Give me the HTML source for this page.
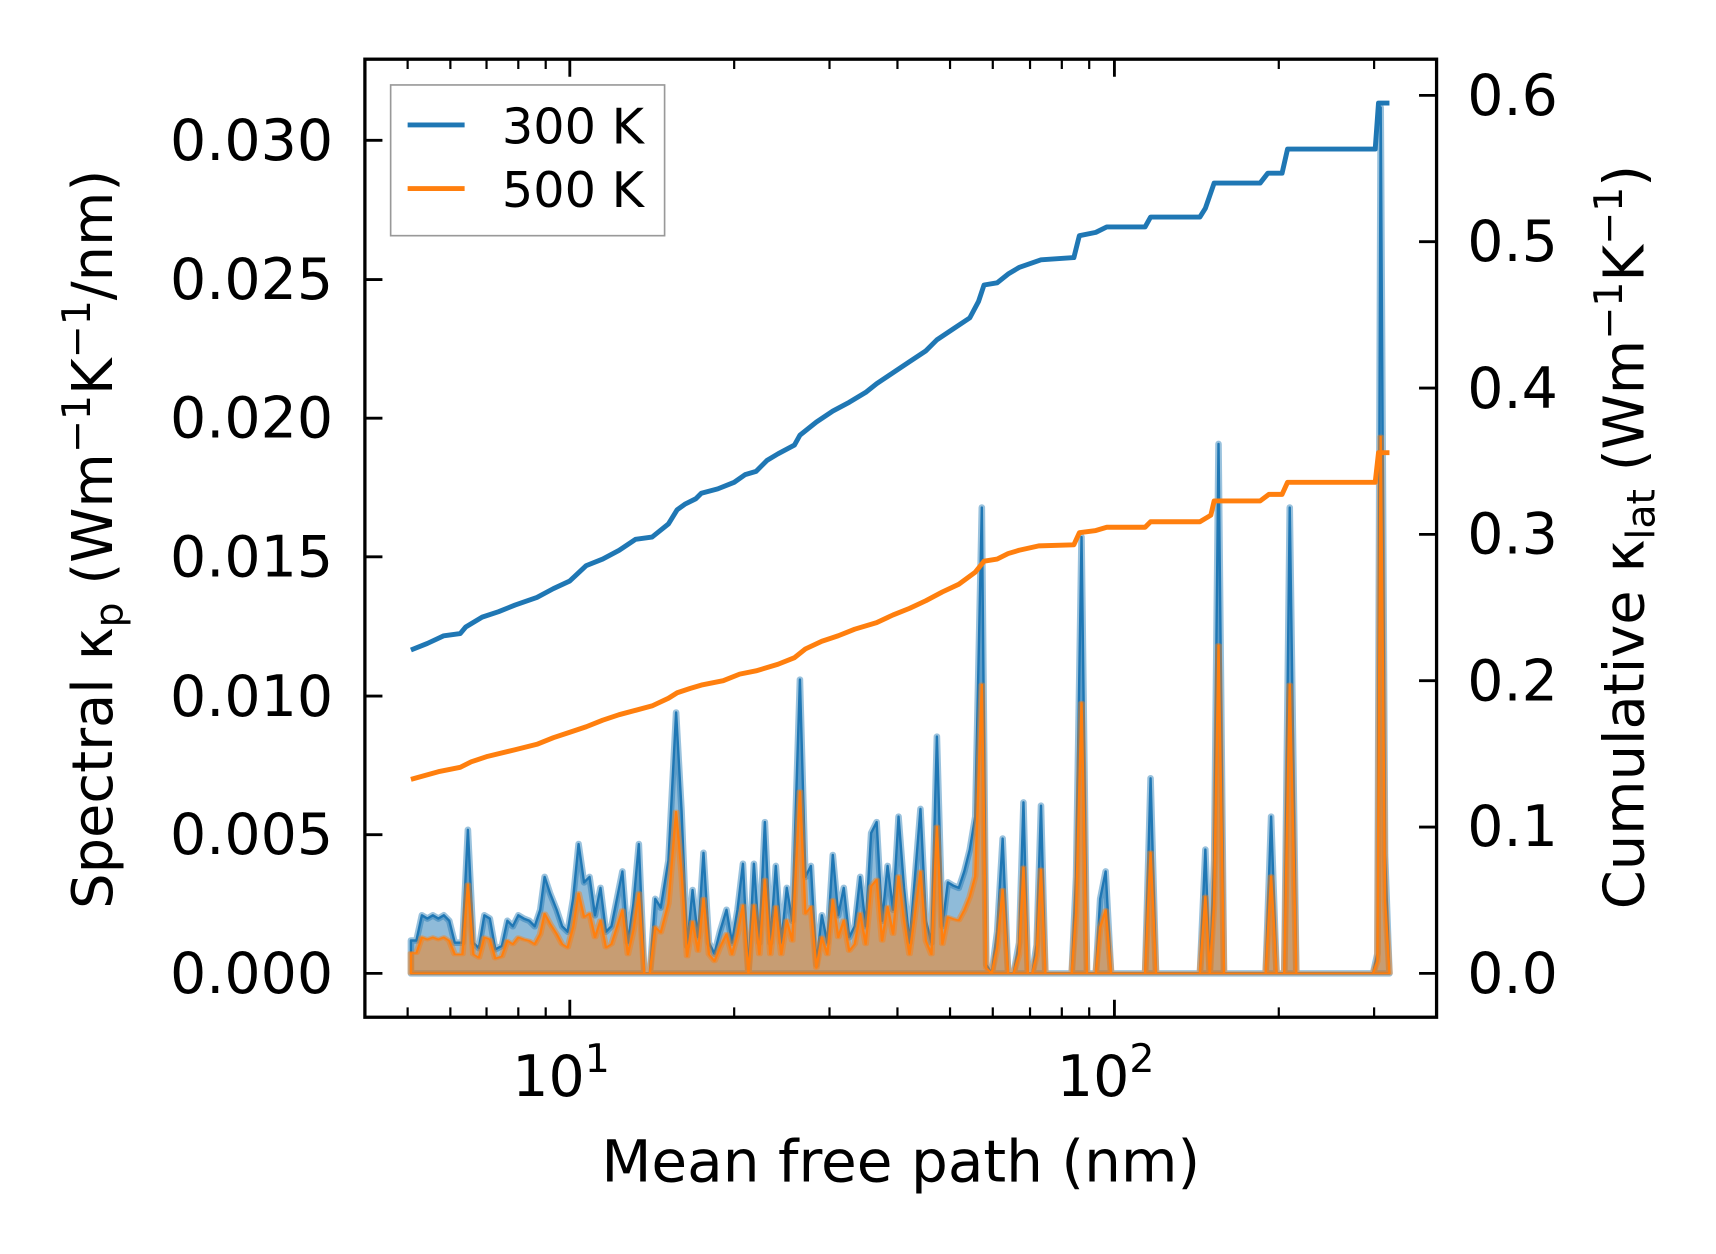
<!DOCTYPE html>
<html><head><meta charset="utf-8"><style>
html,body{margin:0;padding:0;background:#fff;}
svg{display:block;}
text{font-family:"DejaVu Sans","Liberation Sans",sans-serif;fill:#000;}
</style></head><body>
<svg width="1716" height="1254" viewBox="0 0 1566 1144" preserveAspectRatio="none" xmlns="http://www.w3.org/2000/svg">
<defs>
<clipPath id="c"><rect x="333" y="54" width="978" height="874"/></clipPath>
<polygon id="bp" points="375,888 375,858 380,858 385,835 390,838 395,835 400,838 405,835 410,840 415,860 422,860 427,757 432,860 437,865 442,835 447,838 452,866 458,863 463,840 468,845 473,835 478,838 483,840 488,845 493,830 497,800 502,815 508,830 513,845 518,850 523,820 528,770 533,805 538,800 543,835 548,810 553,850 558,845 563,820 568,795 573,860 578,825 583,770 588,888 593,888 598,820 603,828 610,785 617,650 622,740 627,863 632,812 637,855 642,778 647,860 652,870 657,850 663,830 668,860 673,830 678,788 683,888 688,788 693,860 698,750 703,860 708,790 713,860 718,810 723,840 730,620 735,800 740,790 745,880 750,835 755,860 760,780 765,835 770,810 775,855 780,845 785,800 790,845 795,760 800,750 805,840 810,790 815,830 820,745 825,810 830,860 835,800 840,738 845,840 850,860 855,672 860,845 865,805 870,808 875,810 880,795 885,775 890,745 896,463 900,880 905,888 910,850 915,765 920,888 925,888 930,860 934,732 938,888 942,888 946,862 950,735 954,888 960,888 978,888 982,800 987,490 992,888 1000,888 1004,820 1009,795 1014,888 1045,888 1050,710 1055,888 1095,888 1100,775 1104,888 1108,785 1112,405 1117,888 1155,888 1160,745 1165,888 1172,888 1177,463 1183,888 1253,888 1257,870 1260,98 1264,780 1268,888"/>
</defs>
<g clip-path="url(#c)">
<use href="#bp" fill="#1f77b4" fill-opacity="0.5" stroke="#1f77b4" stroke-opacity="0.45" stroke-width="6" stroke-linejoin="round"/>
<use href="#bp" fill="none" stroke="#1f77b4" stroke-width="2.2" stroke-linejoin="round"/>
<g transform="translate(0,888) scale(1,0.62) translate(0,-888)">
<use href="#bp" fill="#ff7f0e" fill-opacity="0.5" stroke="#ff7f0e" stroke-opacity="0.45" stroke-width="6" stroke-linejoin="round"/>
<use href="#bp" fill="none" stroke="#ff7f0e" stroke-width="2.2" stroke-linejoin="round"/>
</g>
<polyline fill="none" stroke="#1f77b4" stroke-width="4.5" stroke-linejoin="round" points="375,593 390,587 405,580 420,578 425,572 440,563 455,558 470,552 490,545 505,537 520,530 535,516 550,510 565,502 580,492 595,490 610,478 618,465 625,460 635,455 640,450 655,446 670,440 680,433 690,430 700,420 710,414 725,406 730,397 745,385 760,375 775,367 790,358 800,350 815,340 830,330 845,320 855,310 870,300 885,290 893,275 898,260 910,258 920,250 930,244 950,237 980,235 985,215 1000,212 1010,207 1045,207 1050,198 1095,198 1100,190 1108,167 1150,167 1157,158 1170,158 1175,136 1255,136 1258,94 1268,94"/>
<polyline fill="none" stroke="#ff7f0e" stroke-width="4.5" stroke-linejoin="round" points="375,711 400,704 420,700 430,695 445,690 470,684 490,679 505,673 520,668 535,663 550,657 565,652 580,648 595,644 610,637 618,632 630,628 640,625 660,621 675,615 690,612 710,606 725,600 735,592 750,585 765,580 780,574 800,568 815,561 830,555 845,548 860,540 875,533 890,522 898,512 910,510 920,505 930,502 948,498 980,497 985,486 1000,484 1010,481 1045,481 1050,476 1095,476 1105,470 1108,457 1150,457 1158,451 1170,451 1175,440 1255,440 1258,413 1268,413"/>
</g>
<rect x="333" y="54" width="978" height="874" fill="none" stroke="#000" stroke-width="3"/>
<g stroke="#000" stroke-width="2.6">
<path d="M333,888h16M333,761.5h16M333,635h16M333,508h16M333,381.5h16M333,255h16M333,128h16"/>
<path d="M1311,888h-16M1311,754.5h-16M1311,621h-16M1311,487.5h-16M1311,354h-16M1311,220.5h-16M1311,87h-16"/>
<path d="M520,928v-16M1017,928v-16M520,54v16M1017,54v16"/>
</g>
<g stroke="#000" stroke-width="2">
<path d="M372,928v-9M411,928v-9M444,928v-9M473,928v-9M498,928v-9M670,928v-9M757,928v-9M819,928v-9M867,928v-9M906,928v-9M940,928v-9M969,928v-9M994,928v-9M1167,928v-9M1254,928v-9
M372,54v9M411,54v9M444,54v9M473,54v9M498,54v9M670,54v9M757,54v9M819,54v9M867,54v9M906,54v9M940,54v9M969,54v9M994,54v9M1167,54v9M1254,54v9"/>
</g>
<g font-size="52" text-anchor="end">
<text x="304" y="906">0.000</text>
<text x="304" y="779">0.005</text>
<text x="304" y="653">0.010</text>
<text x="304" y="526">0.015</text>
<text x="304" y="399">0.020</text>
<text x="304" y="273">0.025</text>
<text x="304" y="146">0.030</text>
</g>
<g font-size="52">
<text x="1339" y="906">0.0</text>
<text x="1339" y="772">0.1</text>
<text x="1339" y="639">0.2</text>
<text x="1339" y="505">0.3</text>
<text x="1339" y="372">0.4</text>
<text x="1339" y="238">0.5</text>
<text x="1339" y="105">0.6</text>
</g>
<g font-size="52" text-anchor="middle">
<text x="512" y="1000">10<tspan font-size="36" dy="-22">1</tspan></text>
<text x="1009" y="1000">10<tspan font-size="36" dy="-22">2</tspan></text>
<text x="822" y="1078" font-size="53">Mean free path (nm)</text>
</g>
<text font-size="51" text-anchor="middle" transform="translate(102,492) rotate(-90)">Spectral κ<tspan font-size="36" dy="10">p</tspan><tspan dy="-10"> (Wm</tspan><tspan font-size="36" dy="-20">−1</tspan><tspan dy="20">K</tspan><tspan font-size="36" dy="-20">−1</tspan><tspan dy="20">/nm)</tspan></text>
<text font-size="51" text-anchor="middle" transform="translate(1500,490) rotate(-90)">Cumulative κ<tspan font-size="36" dy="10">lat</tspan><tspan dy="-10"> (Wm</tspan><tspan font-size="36" dy="-20">−1</tspan><tspan dy="20">K</tspan><tspan font-size="36" dy="-20">−1</tspan><tspan dy="20">)</tspan></text>
<rect x="356.5" y="77.5" width="250" height="137.5" fill="#fff" fill-opacity="0.8" stroke="#999" stroke-width="1.5"/>
<line x1="372" y1="114" x2="424" y2="114" stroke="#1f77b4" stroke-width="4.5"/>
<line x1="372" y1="172" x2="424" y2="172" stroke="#ff7f0e" stroke-width="4.5"/>
<text x="458" y="131" font-size="45">300 K</text>
<text x="458" y="189" font-size="45">500 K</text>
</svg>
</body></html>
